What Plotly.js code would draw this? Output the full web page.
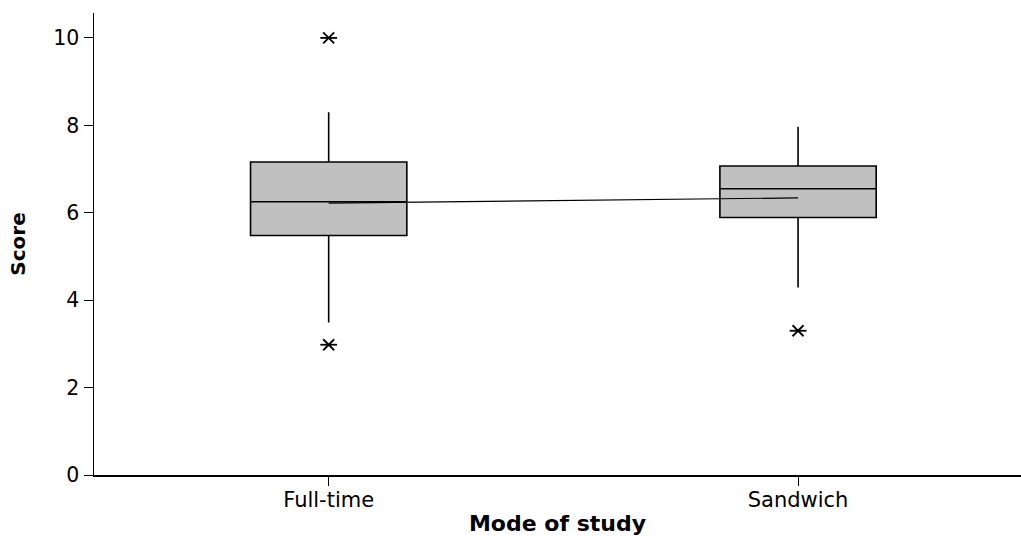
<!DOCTYPE html>
<html>
<head>
<meta charset="utf-8">
<script src="https://cdn.plot.ly/plotly-3.0.1.min.js"></script>
<style>html,body{margin:0;padding:0;background:#fff}#chart{width:1021px;height:536px}</style>
</head>
<body>
<div id="chart"></div>
<script>
const categories = ["Full-time", "Sandwich"];
const q1 = [5.48, 5.89];
const median = [6.25, 6.55];
const q3 = [7.16, 7.07];
const lowerWhisker = [3.49, 4.29];
const upperWhisker = [8.30, 7.97];
const means = [6.22, 6.34];
const outlierCats = ["Full-time", "Full-time", "Sandwich"];
const outlierVals = [10.0, 2.98, 3.30];
const yTicks = [0, 2, 4, 6, 8, 10];

const traces = [
  {
    type: "box",
    x: categories,
    q1: q1,
    median: median,
    q3: q3,
    lowerfence: lowerWhisker,
    upperfence: upperWhisker,
    width: 0.333,
    whiskerwidth: 0,
    fillcolor: "#c0c0c0",
    line: {color: "#000000", width: 1.6},
    boxpoints: false,
    hoverinfo: "skip",
    showlegend: false
  },
  {
    type: "scatter",
    mode: "lines",
    x: categories,
    y: means,
    line: {color: "#000000", width: 1.2},
    hoverinfo: "skip",
    showlegend: false
  },
  {
    type: "scatter",
    mode: "markers",
    x: outlierCats,
    y: outlierVals,
    marker: {symbol: "x-thin-open", size: 11, color: "#000000", line: {color: "#000000", width: 1.8}},
    hoverinfo: "skip",
    showlegend: false
  },
  {
    type: "scatter",
    mode: "markers",
    x: outlierCats,
    y: outlierVals,
    marker: {symbol: "line-ew-open", size: 12, color: "#000000", line: {color: "#000000", width: 1.8}},
    hoverinfo: "skip",
    showlegend: false
  }
];

const layout = {
  width: 1021,
  height: 536,
  margin: {l: 94, r: 0, t: 13, b: 61},
  paper_bgcolor: "#ffffff",
  plot_bgcolor: "#ffffff",
  font: {family: "DejaVu Sans, Verdana, sans-serif", size: 20, color: "#000000"},
  showlegend: false,
  xaxis: {
    type: "category",
    range: [-0.5, 1.475],
    showgrid: false,
    zeroline: false,
    showline: true,
    linecolor: "#000000",
    linewidth: 1.5,
    ticks: "outside",
    ticklen: 9,
    tickwidth: 1,
    tickcolor: "#000000",
    tickfont: {size: 21},
    ticklabelstandoff: -4,
    title: {text: "<b>Mode of study</b>", font: {size: 22}, standoff: 6}
  },
  yaxis: {
    range: [0, 10.57],
    tickvals: yTicks,
    ticktext: yTicks.map(String),
    showgrid: false,
    zeroline: false,
    showline: true,
    linecolor: "#000000",
    linewidth: 1.5,
    ticks: "outside",
    ticklen: 9,
    tickwidth: 1,
    tickcolor: "#000000",
    tickfont: {size: 20.5},
    title: {text: "<b>Score</b>", font: {size: 20}, standoff: 22}
  }
};

Plotly.newPlot("chart", traces, layout, {displayModeBar: false, staticPlot: true});
</script>
</body>
</html>
